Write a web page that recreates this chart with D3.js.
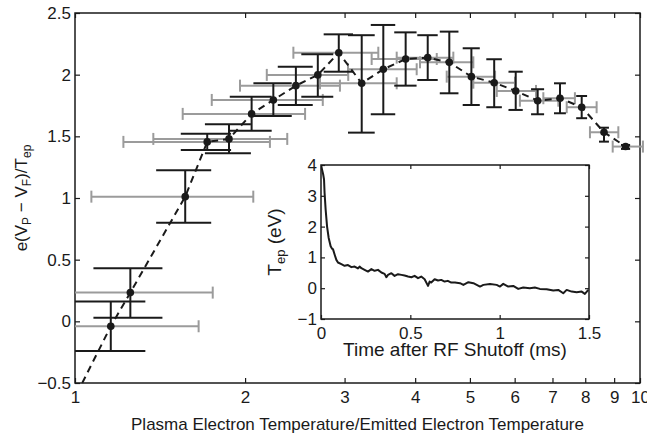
<!DOCTYPE html>
<html>
<head>
<meta charset="utf-8">
<script src="https://cdn.jsdelivr.net/npm/d3@7"></script>
<style>
  body { margin: 0; background: #fff; }
  text { font-family: "Liberation Sans", Arial, sans-serif; fill: #1a1a1a; }
</style>
</head>
<body>
<div id="view1"></div>
<script>
// main panel data: ratio Te/Tep, normalised potential, error ranges
const ratio = [1.157, 1.253, 1.567, 1.714, 1.873, 2.054, 2.244, 2.46, 2.69, 2.93, 3.217, 3.513, 3.848, 4.21, 4.597, 5.03, 5.52, 6.026, 6.59, 7.218, 7.885, 8.636, 9.43];
const potential = [-0.04, 0.233, 1.011, 1.455, 1.479, 1.682, 1.795, 1.911, 1.998, 2.178, 1.930, 2.044, 2.127, 2.138, 2.100, 1.984, 1.935, 1.868, 1.789, 1.809, 1.736, 1.533, 1.417];
const potLow = [-0.24, 0.03, 0.80, 1.39, 1.363, 1.546, 1.665, 1.755, 1.82, 2.024, 1.53, 1.679, 1.911, 1.957, 1.849, 1.754, 1.736, 1.714, 1.679, 1.687, 1.647, 1.457, 1.398];
const potHigh = [0.16, 0.43, 1.225, 1.52, 1.598, 1.82, 1.93, 2.065, 2.165, 2.327, 2.32, 2.403, 2.343, 2.32, 2.349, 2.214, 2.125, 2.024, 1.882, 1.93, 1.827, 1.57, 1.43];
const ratioLow = [0.66, 0.75, 1.069, 1.218, 1.376, 1.551, 1.746, 1.959, 2.185, 2.435, 2.714, 3.042, 3.35, 3.71, 4.08, 4.549, 5.07, 5.578, 6.13, 6.744, 7.418, 8.155, 8.947];
const ratioHigh = [1.655, 1.753, 2.068, 2.213, 2.375, 2.554, 2.745, 2.944, 3.045, 3.442, 3.71, 4.025, 4.368, 4.673, 5.07, 5.54, 6.009, 6.546, 7.169, 7.67, 8.38, 9.155, 10.12];
// dashed guide starts below the first point
const dashStartX = [1.03];
const dashStartY = [-0.5];

const xTicks = [1, 2, 3, 4, 5, 6, 7, 8, 9, 10];
const yTicks = [-0.5, 0, 0.5, 1, 1.5, 2, 2.5];

// inset data: Tep vs time after RF shutoff
const insetTime = [0, 0.006, 0.012, 0.017, 0.02, 0.026, 0.034, 0.043, 0.054, 0.062,
  0.067, 0.077, 0.086, 0.095, 0.114, 0.132, 0.151, 0.17, 0.188, 0.207,
  0.216, 0.226, 0.244, 0.263, 0.282, 0.3, 0.319, 0.338, 0.356, 0.366,
  0.375, 0.394, 0.412, 0.431, 0.45, 0.468, 0.487, 0.506, 0.524, 0.543,
  0.561, 0.58, 0.599, 0.608, 0.617, 0.636, 0.655, 0.673, 0.692, 0.71,
  0.729, 0.75, 0.778, 0.797, 0.825, 0.853, 0.89, 0.909, 0.946, 0.983,
  1.002, 1.02, 1.048, 1.076, 1.104, 1.132, 1.169, 1.197, 1.225, 1.263,
  1.3, 1.328, 1.356, 1.375, 1.403, 1.431, 1.459, 1.477, 1.496];
const insetTep = [4.0, 3.85, 3.7, 3.53, 3.1, 2.55, 2.0, 1.63, 1.36, 1.28,
  1.27, 1.08, 0.92, 0.834, 0.78, 0.726, 0.75, 0.684, 0.704, 0.64,
  0.704, 0.65, 0.596, 0.54, 0.62, 0.564, 0.596, 0.51, 0.466, 0.357,
  0.433, 0.488, 0.4, 0.455, 0.433, 0.41, 0.378, 0.357, 0.4, 0.325,
  0.378, 0.292, 0.075, 0.216, 0.184, 0.292, 0.249, 0.27, 0.216, 0.238,
  0.184, 0.183, 0.162, 0.108, 0.195, 0.162, 0.053, 0.108, 0.14, 0.108,
  0.053, 0.14, 0.053, 0.075, -0.023, 0.02, 0, 0.02, -0.023, -0.033,
  -0.077, -0.055, -0.163, -0.055, -0.11, -0.13, -0.11, -0.186, -0.055];
const insetXTicks = [0, 0.5, 1, 1.5];
const insetYTicks = [-1, 0, 1, 2, 3, 4];

const margin = { top: 13, right: 7, bottom: 52, left: 75 };
const W = 647, H = 435;
const width = W - margin.left - margin.right;   // 565
const height = H - margin.top - margin.bottom;  // 370

const capHalf = 0.175;   // black cap half width, in ratio units
const grayCap = 6;
const black = "#1a1a1a", gray = "#9b9b9b";
const fmt = d3.format("~g");

const svg = d3.select("#view1")
  .append("svg")
    .attr("width", W)
    .attr("height", H)
  .append("g")
    .attr("transform", `translate(${margin.left},${margin.top})`);

svg.append("defs").append("clipPath")
    .attr("id", "mainClip")
  .append("rect")
    .attr("x", 0).attr("y", -5)
    .attr("width", width + 8).attr("height", height + 10);

const x = d3.scaleLog().domain([1, 10]).range([0, width]);
const y = d3.scaleLinear().domain([-0.5, 2.5]).range([height, 0]);

const data = ratio.map((r, i) => ({
  x: r, y: potential[i], lo: potLow[i], hi: potHigh[i], xl: ratioLow[i], xh: ratioHigh[i]
}));

// axes, ticks pointing inward on all four sides
svg.append("g")
    .attr("transform", `translate(0,${height})`)
    .style("font-size", "17px")
    .call(d3.axisBottom(x).tickValues(xTicks).tickFormat(fmt).tickSizeInner(-5).tickSizeOuter(0).tickPadding(8))
    .call(g => g.select(".domain").remove());
svg.append("g")
    .style("font-size", "17px")
    .call(d3.axisLeft(y).tickValues(yTicks).tickFormat(fmt).tickSizeInner(-5).tickSizeOuter(0).tickPadding(4))
    .call(g => g.select(".domain").remove());
svg.append("g")
    .call(d3.axisTop(x).tickValues(xTicks).tickFormat("").tickSizeInner(-5).tickSizeOuter(0))
    .call(g => g.select(".domain").remove());
svg.append("g")
    .attr("transform", `translate(${width},0)`)
    .call(d3.axisRight(y).tickValues(yTicks).tickFormat("").tickSizeInner(-5).tickSizeOuter(0))
    .call(g => g.select(".domain").remove());
svg.selectAll(".tick line").attr("stroke", black).attr("stroke-width", 1.2);
svg.selectAll(".tick text").attr("fill", black).style("font-family", "Liberation Sans, Arial, sans-serif");

svg.append("rect")
    .attr("width", width).attr("height", height)
    .attr("fill", "none").attr("stroke", black).attr("stroke-width", 1.5);

const plot = svg.append("g").attr("clip-path", "url(#mainClip)");

// horizontal (grey) error bars
const gx = plot.append("g").attr("stroke", gray).attr("stroke-width", 2).attr("fill", "none");
gx.selectAll("line.h").data(data).join("line")
  .attr("x1", d => x(d.xl)).attr("x2", d => x(d.xh))
  .attr("y1", d => y(d.y)).attr("y2", d => y(d.y));
gx.selectAll("line.l").data(data).join("line")
  .attr("x1", d => x(d.xl)).attr("x2", d => x(d.xl))
  .attr("y1", d => y(d.y) - grayCap).attr("y2", d => y(d.y) + grayCap);
gx.selectAll("line.r").data(data).join("line")
  .attr("x1", d => x(d.xh)).attr("x2", d => x(d.xh))
  .attr("y1", d => y(d.y) - grayCap).attr("y2", d => y(d.y) + grayCap);

// vertical (black) error bars
const gy = plot.append("g").attr("stroke", black).attr("stroke-width", 2).attr("fill", "none");
gy.selectAll("line.v").data(data).join("line")
  .attr("x1", d => x(d.x)).attr("x2", d => x(d.x))
  .attr("y1", d => y(d.lo)).attr("y2", d => y(d.hi));
gy.selectAll("line.t").data(data).join("line")
  .attr("x1", d => x(d.x - capHalf)).attr("x2", d => x(d.x + capHalf))
  .attr("y1", d => y(d.hi)).attr("y2", d => y(d.hi));
gy.selectAll("line.b").data(data).join("line")
  .attr("x1", d => x(d.x - capHalf)).attr("x2", d => x(d.x + capHalf))
  .attr("y1", d => y(d.lo)).attr("y2", d => y(d.lo));

// dashed guide through the points
const dashPts = dashStartX.map((v, i) => [v, dashStartY[i]]).concat(data.map(d => [d.x, d.y]));
plot.append("path")
  .datum(dashPts)
  .attr("d", d3.line().x(d => x(d[0])).y(d => y(d[1])))
  .attr("fill", "none")
  .attr("stroke", black)
  .attr("stroke-width", 2)
  .attr("stroke-dasharray", "7,5");

plot.selectAll("circle").data(data).join("circle")
  .attr("cx", d => x(d.x)).attr("cy", d => y(d.y))
  .attr("r", 3.8).attr("fill", black);

// axis labels
svg.append("text")
  .attr("x", width / 2)
  .attr("y", height + 47)
  .style("text-anchor", "middle")
  .style("font-size", "17px")
  .text("Plasma Electron Temperature/Emitted Electron Temperature");

const yl = svg.append("text")
  .attr("transform", `translate(${27 - margin.left},${height / 2}) rotate(-90)`)
  .style("text-anchor", "middle")
  .style("font-size", "17px");
yl.append("tspan").text("e(V");
yl.append("tspan").attr("dy", 4).style("font-size", "12px").text("P");
yl.append("tspan").attr("dy", -4).text(" \u2212 V");
yl.append("tspan").attr("dy", 4).style("font-size", "12px").text("F");
yl.append("tspan").attr("dy", -4).text(")/T");
yl.append("tspan").attr("dy", 4).style("font-size", "12px").text("ep");

// ---------------- inset ----------------
const inset = { left: 321, top: 165, width: 268, height: 154 };
const ig = d3.select("svg").append("g")
  .attr("transform", `translate(${inset.left},${inset.top})`);

ig.append("rect")
  .attr("width", inset.width).attr("height", inset.height)
  .attr("fill", "#fff");

ig.append("defs").append("clipPath")
    .attr("id", "insetClip")
  .append("rect")
    .attr("width", inset.width).attr("height", inset.height);

const ix = d3.scaleLinear().domain([0, 1.5]).range([0, inset.width]);
const iy = d3.scaleLinear().domain([-1, 4]).range([inset.height, 0]);

ig.append("g")
    .attr("transform", `translate(0,${inset.height})`)
    .style("font-size", "17px")
    .call(d3.axisBottom(ix).tickValues(insetXTicks).tickFormat(fmt).tickSizeInner(-4).tickSizeOuter(0).tickPadding(8))
    .call(g => g.select(".domain").remove());
ig.append("g")
    .style("font-size", "17px")
    .call(d3.axisLeft(iy).tickValues(insetYTicks).tickFormat(fmt).tickSizeInner(-4).tickSizeOuter(0).tickPadding(4))
    .call(g => g.select(".domain").remove());
ig.append("g")
    .call(d3.axisTop(ix).tickValues(insetXTicks).tickFormat("").tickSizeInner(-4).tickSizeOuter(0))
    .call(g => g.select(".domain").remove());
ig.append("g")
    .attr("transform", `translate(${inset.width},0)`)
    .call(d3.axisRight(iy).tickValues(insetYTicks).tickFormat("").tickSizeInner(-4).tickSizeOuter(0))
    .call(g => g.select(".domain").remove());
ig.selectAll(".tick line").attr("stroke", black).attr("stroke-width", 1.2);
ig.selectAll(".tick text").attr("fill", black).style("font-family", "Liberation Sans, Arial, sans-serif");

ig.append("path")
  .datum(insetTime.map((t, i) => [t, insetTep[i]]))
  .attr("clip-path", "url(#insetClip)")
  .attr("d", d3.line().x(d => ix(d[0])).y(d => iy(d[1])))
  .attr("fill", "none")
  .attr("stroke", black)
  .attr("stroke-width", 2)
  .attr("stroke-linejoin", "round");

ig.append("rect")
  .attr("width", inset.width).attr("height", inset.height)
  .attr("fill", "none").attr("stroke", black).attr("stroke-width", 1.5);

ig.append("text")
  .attr("x", inset.width / 2)
  .attr("y", inset.height + 37)
  .style("text-anchor", "middle")
  .style("font-size", "19px")
  .text("Time after RF Shutoff (ms)");

const il = ig.append("text")
  .attr("transform", `translate(-40,${inset.height / 2}) rotate(-90)`)
  .style("text-anchor", "middle")
  .style("font-size", "19px");
il.append("tspan").text("T");
il.append("tspan").attr("dy", 4).style("font-size", "13px").text("ep");
il.append("tspan").attr("dy", -4).text(" (eV)");
</script>
</body>
</html>
